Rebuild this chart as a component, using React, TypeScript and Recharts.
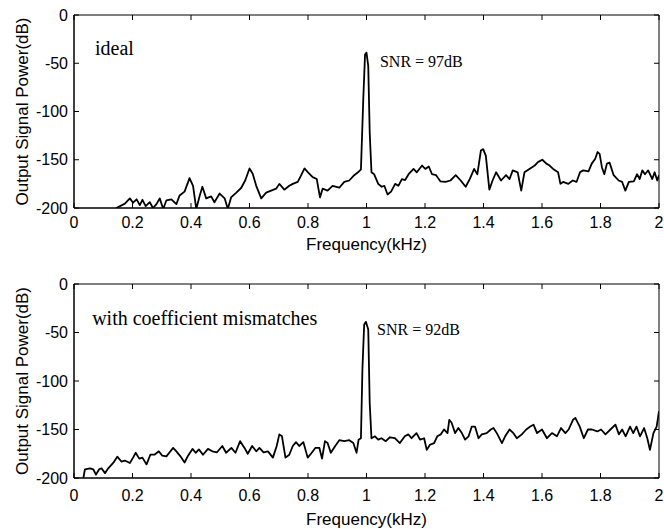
import { LineChart, Line, XAxis, YAxis, ReferenceDot, ReferenceArea } from "recharts";

const freqTicks = [0, 0.2, 0.4, 0.6, 0.8, 1, 1.2, 1.4, 1.6, 1.8, 2];
const powerTicks = [-200, -150, -100, -50, 0];

// ideal case (top panel)
const idealFreq = [
  0.13, 0.145, 0.174, 0.191, 0.202, 0.214, 0.225, 0.234, 0.245, 0.259, 0.27, 0.282, 0.293,
  0.305, 0.316, 0.333, 0.35, 0.361, 0.378, 0.395, 0.407, 0.418, 0.43, 0.439, 0.452, 0.469,
  0.48, 0.498, 0.515, 0.526, 0.537, 0.555, 0.572, 0.586, 0.6, 0.611, 0.623, 0.64, 0.657,
  0.674, 0.691, 0.702, 0.719, 0.736, 0.748, 0.765, 0.776, 0.788, 0.8, 0.816, 0.83, 0.841,
  0.85, 0.867, 0.884, 0.907, 0.924, 0.941, 0.958, 0.971, 0.981, 0.989, 0.995, 1.0, 1.006,
  1.011, 1.017, 1.026, 1.04, 1.052, 1.061, 1.072, 1.084, 1.098, 1.109, 1.121, 1.132, 1.144,
  1.161, 1.172, 1.19, 1.201, 1.213, 1.224, 1.238, 1.253, 1.27, 1.287, 1.305, 1.322, 1.339,
  1.353, 1.368, 1.379, 1.391, 1.399, 1.408, 1.42, 1.431, 1.443, 1.46, 1.477, 1.489, 1.5,
  1.517, 1.529, 1.54, 1.557, 1.575, 1.586, 1.601, 1.615, 1.626, 1.638, 1.655, 1.663, 1.672,
  1.69, 1.705, 1.718, 1.73, 1.741, 1.759, 1.77, 1.782, 1.79, 1.797, 1.805, 1.813, 1.822,
  1.831, 1.845, 1.862, 1.874, 1.885, 1.897, 1.914, 1.925, 1.934, 1.943, 1.952, 1.963, 1.977,
  1.985, 1.994, 2.0,
];
const idealPower = [
  -210, -200, -195.5, -190, -194.5, -191, -197, -191.5, -198, -194, -200, -196, -190,
  -201, -192, -191, -196, -187, -183, -169, -177, -201, -187, -178, -190, -188,
  -194, -185, -190, -201, -189, -184, -179, -171, -159, -164.5, -177, -190, -184,
  -182, -180, -175, -181, -177, -175, -173, -166.5, -159, -163, -168, -170, -189,
  -180, -182, -177, -179, -173, -171.5, -166, -163, -160, -87, -41, -39, -53,
  -122, -163, -165, -175, -178, -177, -186, -183, -175, -177, -170, -171, -165,
  -159.5, -163, -156, -159.5, -157, -165, -166, -172.5, -173, -171.5, -166, -171.5, -178,
  -170, -159.5, -165, -140.5, -139, -146, -181, -171.5, -163, -171.5, -166, -170, -161,
  -163, -182, -163, -159.5, -156, -152.5, -150, -154, -156, -159.5, -163, -175, -173,
  -175, -171.5, -173, -163, -161, -162, -154, -149, -142, -144, -158, -165, -154,
  -153, -166, -171.5, -173, -182, -173, -172.5, -165, -170, -161, -165, -161, -170,
  -163, -171.5, -166,
];

// with coefficient mismatches (bottom panel)
const mismatchFreq = [
  0.025, 0.032, 0.0375, 0.055, 0.066, 0.075, 0.086, 0.094, 0.106, 0.117, 0.134, 0.148, 0.162,
  0.174, 0.191, 0.202, 0.211, 0.223, 0.234, 0.248, 0.261, 0.275, 0.29, 0.302, 0.316, 0.327,
  0.339, 0.35, 0.364, 0.378, 0.39, 0.405, 0.416, 0.427, 0.441, 0.458, 0.473, 0.489, 0.507,
  0.52, 0.538, 0.552, 0.568, 0.583, 0.594, 0.609, 0.623, 0.634, 0.648, 0.663, 0.68, 0.693,
  0.702, 0.711, 0.723, 0.736, 0.748, 0.759, 0.77, 0.784, 0.799, 0.81, 0.825, 0.839, 0.848,
  0.858, 0.867, 0.878, 0.893, 0.907, 0.924, 0.941, 0.955, 0.966, 0.973, 0.981, 0.986, 0.992,
  0.998, 1.006, 1.011, 1.017, 1.029, 1.04, 1.051, 1.066, 1.08, 1.097, 1.114, 1.131, 1.143,
  1.154, 1.171, 1.183, 1.197, 1.206, 1.217, 1.231, 1.242, 1.254, 1.265, 1.277, 1.283, 1.291,
  1.303, 1.314, 1.326, 1.337, 1.349, 1.36, 1.371, 1.383, 1.394, 1.411, 1.425, 1.434, 1.446,
  1.463, 1.474, 1.489, 1.503, 1.514, 1.531, 1.546, 1.56, 1.571, 1.583, 1.6, 1.617, 1.634,
  1.651, 1.665, 1.68, 1.691, 1.706, 1.714, 1.729, 1.743, 1.757, 1.771, 1.789, 1.802, 1.817,
  1.834, 1.851, 1.863, 1.874, 1.886, 1.901, 1.912, 1.923, 1.935, 1.949, 1.96, 1.969, 1.981,
  1.992, 2.0,
];
const mismatchPower = [
  -210, -200, -191, -190, -191, -196.5, -191, -190, -195, -190, -184.5, -178, -183,
  -182, -184.5, -179, -174, -180, -179, -186, -176, -176, -172.5, -177, -177.7, -173.5,
  -169, -172.5, -177.7, -184, -177, -170, -174, -170.5, -176, -170, -172.5, -173.5, -167,
  -174, -169, -174, -162, -169, -175, -167, -172.5, -169, -173.5, -172.5, -179, -167,
  -155, -157, -179, -176, -167, -163, -167, -163, -179, -175, -169, -169, -180,
  -162, -164, -174, -167, -161, -162, -161, -164, -174, -160.5, -159, -88.5, -42,
  -39, -47, -123, -159, -157, -160.5, -159, -162, -158, -159, -164, -157, -155,
  -159, -153.7, -160.5, -159, -171, -165.7, -164, -157, -155, -150, -153.7, -140, -143,
  -153.7, -148.5, -153.7, -160.5, -157, -147, -147, -159, -155, -153.7, -150, -148.5, -154,
  -164, -157, -150, -154, -159, -155, -150, -147, -145, -153.7, -150, -159, -153.7,
  -157, -148.5, -153.7, -150, -140, -138, -147, -159, -150, -150, -152, -150, -155,
  -150, -145, -155, -150, -157, -147, -153.7, -147, -157, -148.5, -159, -171, -153.7,
  -147, -131,
];

const idealData = idealFreq.map((f, i) => ({ f, p: idealPower[i] }));
const mismatchData = mismatchFreq.map((f, i) => ({ f, p: mismatchPower[i] }));

const sans = "'Liberation Sans', Arial, Helvetica, sans-serif";
const serif = "'Liberation Serif', 'Times New Roman', Times, serif";

const W = 664;
const LEFT = 74;
const RIGHT = 5;
const X_AXIS_H = 30;
const TICK_LEN = 5;
const Y_GAP = 6;

interface PanelProps {
  data: { f: number; p: number }[];
  height: number;
  top: number;
  bottom: number;
  tickGap: number;
  titleGap: number;
  note: string;
  noteAt: [number, number];
  snr: string;
  snrAt: [number, number];
}

function Panel({ data, height, top, bottom, tickGap, titleGap, note, noteAt, snr, snrAt }: PanelProps) {
  const plotH = height - top - bottom - X_AXIS_H;
  const plotW = W - LEFT - RIGHT;

  // MATLAB-like ticks: labels outside, short marks inside on both opposite sides
  const xTick = (props: any) => {
    const { x, y, payload } = props;
    const base = y - tickGap;
    return (
      <g>
        <line x1={x} x2={x} y1={base} y2={base - TICK_LEN} stroke="#000" />
        <line x1={x} x2={x} y1={base - plotH} y2={base - plotH + TICK_LEN} stroke="#000" />
        <text x={x} y={y} dy="0.71em" textAnchor="middle" fontSize={16} fontFamily={sans} fill="#000">
          {payload.value}
        </text>
      </g>
    );
  };

  const yTick = (props: any) => {
    const { x, y, payload } = props;
    const base = x + Y_GAP;
    return (
      <g>
        <line x1={base} x2={base + TICK_LEN} y1={y} y2={y} stroke="#000" />
        <line x1={base + plotW} x2={base + plotW - TICK_LEN} y1={y} y2={y} stroke="#000" />
        <text x={x} y={y} dy="0.355em" textAnchor="end" fontSize={16} fontFamily={sans} fill="#000">
          {payload.value}
        </text>
      </g>
    );
  };

  return (
    <LineChart width={W} height={height} data={data} margin={{ top, right: RIGHT, left: 0, bottom }}>
      <XAxis
        dataKey="f"
        type="number"
        domain={[0, 2]}
        allowDataOverflow
        ticks={freqTicks}
        interval={0}
        height={X_AXIS_H}
        tickSize={0}
        tickLine={false}
        tickMargin={tickGap}
        tick={xTick}
        axisLine={{ stroke: "#000" }}
        label={{
          content: ({ viewBox }: any) => (
            <text
              x={viewBox.x + viewBox.width / 2}
              y={viewBox.y + titleGap}
              textAnchor="middle"
              fontSize={17}
              fontFamily={sans}
              fill="#000"
            >
              Frequency(kHz)
            </text>
          ),
        }}
      />
      <YAxis
        type="number"
        domain={[-200, 0]}
        allowDataOverflow
        ticks={powerTicks}
        interval={0}
        width={LEFT}
        tickSize={0}
        tickLine={false}
        tickMargin={Y_GAP}
        tick={yTick}
        axisLine={{ stroke: "#000" }}
        label={{
          content: ({ viewBox }: any) => {
            const x = viewBox.x + 28;
            const y = viewBox.y + viewBox.height / 2;
            return (
              <text
                x={x}
                y={y}
                transform={`rotate(-90, ${x}, ${y})`}
                textAnchor="middle"
                fontSize={17}
                fontFamily={sans}
                fill="#000"
              >
                Output Signal Power(dB)
              </text>
            );
          },
        }}
      />
      <ReferenceArea x1={0} x2={2} y1={-200} y2={0} fill="none" fillOpacity={0} stroke="#000" strokeWidth={1} />
      <Line
        type="linear"
        dataKey="p"
        stroke="#000"
        strokeWidth={1.8}
        strokeLinejoin="round"
        dot={false}
        isAnimationActive={false}
      />
      <ReferenceDot
        x={noteAt[0]}
        y={noteAt[1]}
        r={1}
        shape={(props: any) => (
          <text x={props.cx} y={props.cy} fontSize={20} fontFamily={serif} fill="#000">
            {note}
          </text>
        )}
      />
      <ReferenceDot
        x={snrAt[0]}
        y={snrAt[1]}
        r={1}
        shape={(props: any) => (
          <text x={props.cx} y={props.cy} fontSize={16} fontFamily={serif} fill="#000">
            {snr}
          </text>
        )}
      />
    </LineChart>
  );
}

export default function App() {
  return (
    <div
      style={{
        position: "absolute",
        left: 0,
        top: 0,
        width: W,
        height: 529,
        background: "#fff",
      }}
    >
      <Panel
        data={idealData}
        height={264}
        top={15}
        bottom={26}
        tickGap={9}
        titleGap={42}
        note="ideal"
        noteAt={[0.072, -41.5]}
        snr="SNR = 97dB"
        snrAt={[1.046, -54]}
      />
      <Panel
        data={mismatchData}
        height={265}
        top={20}
        bottom={21}
        tickGap={12}
        titleGap={47}
        note="with coefficient mismatches"
        noteAt={[0.062, -42]}
        snr="SNR = 92dB"
        snrAt={[1.036, -52.6]}
      />
    </div>
  );
}
